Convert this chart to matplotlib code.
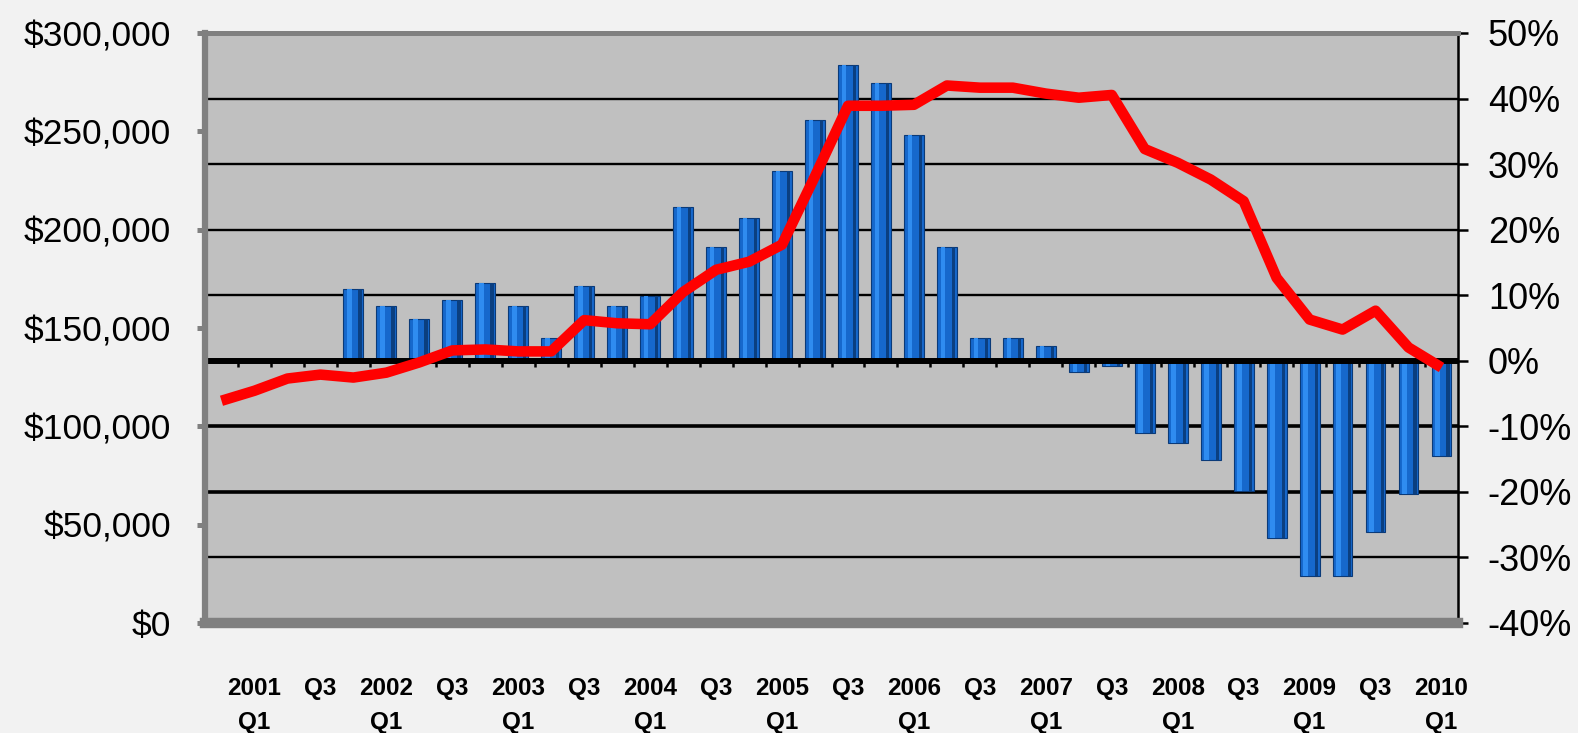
import matplotlib
matplotlib.use("Agg")
import matplotlib.pyplot as plt
import numpy as np

# trimestres de 2000 Q4 a 2010 Q1
quarters = ['2000 Q4',
            '2001 Q1', '2001 Q2', '2001 Q3', '2001 Q4',
            '2002 Q1', '2002 Q2', '2002 Q3', '2002 Q4',
            '2003 Q1', '2003 Q2', '2003 Q3', '2003 Q4',
            '2004 Q1', '2004 Q2', '2004 Q3', '2004 Q4',
            '2005 Q1', '2005 Q2', '2005 Q3', '2005 Q4',
            '2006 Q1', '2006 Q2', '2006 Q3', '2006 Q4',
            '2007 Q1', '2007 Q2', '2007 Q3', '2007 Q4',
            '2008 Q1', '2008 Q2', '2008 Q3', '2008 Q4',
            '2009 Q1', '2009 Q2', '2009 Q3', '2009 Q4',
            '2010 Q1']

# preco medio (eixo da esquerda)
price = [113000, 118100, 124300, 126300, 124800, 127300, 132500, 138600,
         139100, 138100, 138100, 154000, 152400, 151900, 168300, 179600,
         183700, 192400, 227200, 263000, 263000, 263500, 273300, 272200,
         272200, 269200, 267100, 268500, 241000, 234000, 225500, 214500,
         175500, 154300, 149200, 158800, 140100, 129900]

# variacao anual em % (eixo da direita), comeca em 2001 Q4
yoy_start = 4
yoy = [10.9, 8.4, 6.4, 9.2, 11.9, 8.3, 3.4, 11.4, 8.4, 9.9,
       23.4, 17.3, 21.8, 29.0, 36.8, 45.1, 42.4, 34.5, 17.3, 3.4,
       3.5, 2.3, -1.7, -0.8, -11.0, -12.6, -15.2, -19.9, -27.0, -32.9,
       -32.9, -26.1, -20.3, -14.5]

tick_pos = [1, 3, 5, 7, 9, 11, 13, 15, 17, 19, 21, 23, 25, 27, 29, 31, 33, 35, 37]
tick_labels = ['2001\nQ1', 'Q3', '2002\nQ1', 'Q3', '2003\nQ1', 'Q3', '2004\nQ1', 'Q3',
               '2005\nQ1', 'Q3', '2006\nQ1', 'Q3', '2007\nQ1', 'Q3', '2008\nQ1', 'Q3',
               '2009\nQ1', 'Q3', '2010\nQ1']

price_ticks = [0, 50000, 100000, 150000, 200000, 250000, 300000]
price_labels = ['$0', '$50,000', '$100,000', '$150,000', '$200,000', '$250,000', '$300,000']
pct_ticks = [-40, -30, -20, -10, 0, 10, 20, 30, 40, 50]
pct_labels = ['-40%', '-30%', '-20%', '-10%', '0%', '10%', '20%', '30%', '40%', '50%']

fonte = ['Liberation Sans', 'DejaVu Sans']
frame = '#808080'

fig = plt.figure(figsize=(15.78, 7.33), dpi=100)
fig.patch.set_facecolor('#f2f2f2')
ax = fig.add_axes([205 / 1578, 1 - 623 / 733, (1458 - 205) / 1578, (623 - 33) / 733])
ax.set_facecolor('#c0c0c0')
ax2 = ax.twinx()  # precos, fica por cima das barras

x = np.arange(len(quarters))
xb = x[yoy_start:yoy_start + len(yoy)]

# eixo das porcentagens (barras), marcas a direita
ax.set_ylim(-40, 50)
ax.set_xlim(-0.5, len(quarters) - 0.5)
ax.yaxis.tick_right()
ax.set_yticks(pct_ticks)
ax.set_yticklabels(pct_labels, family=fonte, fontsize=26)
ax.tick_params(axis='y', which='both', left=False, right=True, labelleft=False, labelright=True,
               direction='out', length=7.5, width=1.8, color='black', pad=14)

for v in pct_ticks[1:-1]:
    if v == 0:
        continue
    ax.axhline(v, color='black', lw=2.6 if v in (-10, -20) else 1.7, zorder=0.5)

ax.bar(xb, yoy, width=0.6, color='#1668cc', edgecolor='#0a3a78', linewidth=0.8, zorder=2)
ax.bar(xb - 0.12, yoy, width=0.14, color='#2f8cf0', linewidth=0, zorder=2.1)
ax.bar(xb + 0.2, yoy, width=0.1, color='#0b3f80', linewidth=0, zorder=2.1)
ax.axhline(0, color='black', lw=4.3, zorder=3)

# rotulos do eixo x
ax.set_xticks(tick_pos)
ax.set_xticklabels(tick_labels, family=fonte, fontsize=17.5, fontweight='bold', linespacing=1.6)
ax.tick_params(axis='x', length=0, pad=39)

# marquinhas das categorias sobre a linha do 0%
zero_frac = (0 - pct_ticks[0]) / (pct_ticks[-1] - pct_ticks[0])
sec = ax.secondary_xaxis(zero_frac)
sec.set_xticks(x[:-1] + 0.5)
sec.set_xticklabels([])
sec.tick_params(axis='x', direction='out', length=4, width=1.8, color='black')
sec.spines['bottom'].set_visible(False)

for s in ['top', 'bottom']:
    ax.spines[s].set_color(frame)
ax.spines['top'].set_linewidth(3.6)
ax.spines['bottom'].set_linewidth(7.5)
ax.spines['right'].set_color('black')
ax.spines['right'].set_linewidth(1.8)
ax.spines['left'].set_visible(False)

# eixo dos precos (linha vermelha), marcas a esquerda
ax2.set_ylim(0, 300000)
ax2.plot(x, price, color='#ff0000', lw=7.6, solid_capstyle='butt', solid_joinstyle='round', zorder=4)
ax2.yaxis.tick_left()
ax2.set_yticks(price_ticks)
ax2.set_yticklabels(price_labels, family=fonte, fontsize=25.5)
ax2.tick_params(axis='y', which='both', left=True, right=False, labelleft=True, labelright=False,
                direction='out', length=5.5, width=3.6, color=frame, pad=19)
for s in ['top', 'bottom', 'right']:
    ax2.spines[s].set_visible(False)
ax2.spines['left'].set_color(frame)
ax2.spines['left'].set_linewidth(4.5)

fig.savefig('out.png', dpi=100, facecolor=fig.get_facecolor())
